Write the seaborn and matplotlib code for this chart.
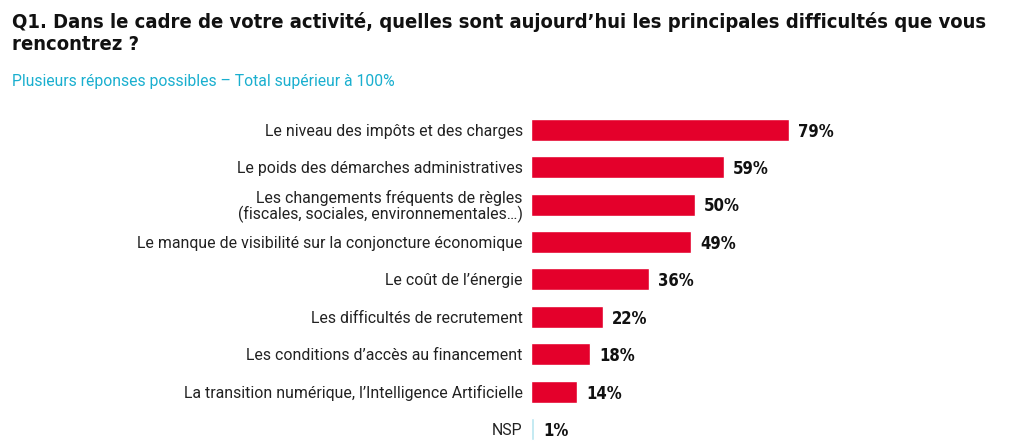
import matplotlib
matplotlib.use('Agg')
import matplotlib.pyplot as plt
import seaborn as sns
import pandas as pd

# data
labels = [
    "Le niveau des impôts et des charges",
    "Le poids des démarches administratives",
    "Les changements fréquents de règles\n(fiscales, sociales, environnementales…)",
    "Le manque de visibilité sur la conjoncture économique",
    "Le coût de l’énergie",
    "Les difficultés de recrutement",
    "Les conditions d’accès au financement",
    "La transition numérique, l’Intelligence Artificielle",
    "NSP",
]
values = [79, 59, 50, 49, 36, 22, 18, 14, 1]
bar_colors = ["#E4002B"] * 8 + ["#B8E6F0"]

title = ("Q1. Dans le cadre de votre activité, quelles sont aujourd’hui les principales difficultés que vous\n"
         "rencontrez ?")
subtitle = "Plusieurs réponses possibles – Total supérieur à 100%"

sns.set_theme(style="white")
plt.rcParams['font.family'] = ['Roboto', 'DejaVu Sans']

df = pd.DataFrame({'label': labels, 'value': values})

fig = plt.figure(figsize=(10.24, 4.46), dpi=100)
ax = fig.add_axes([531 / 1024, -0.004, 327 / 1024, 0.755])

sns.barplot(data=df, x='value', y='label', hue='label', palette=bar_colors,
            legend=False, width=0.59, ax=ax, saturation=1)
ax.set_xlim(0, 100)
ax.set_ylim(8.5, -0.5)
ax.set_xlabel('')
ax.set_ylabel('')
ax.set_xticks([])
ax.tick_params(axis='y', length=0, pad=6, labelsize=11.4, labelcolor='#222222')
for s in ax.spines.values():
    s.set_visible(False)

for tl in ax.get_yticklabels():
    tl.set_horizontalalignment('right')
    tl.set_multialignment('right')
    tl.set_linespacing(1.0)

for i, v in enumerate(values):
    ax.text(v + 2.8, i + 0.05, f"{v}%", va='center', ha='left', fontsize=12,
            fontweight='bold', fontstretch='condensed', family=['DejaVu Sans'],
            color='#111111', clip_on=False)

fig.text(12 / 1024, 1 - 12 / 446, title, ha='left', va='top', fontsize=14.5,
         fontweight='bold', fontstretch='condensed', family=['DejaVu Sans'],
         color='#111111', linespacing=1.2)
fig.text(12 / 1024, 1 - 74 / 446, subtitle, ha='left', va='top', fontsize=11.3,
         color='#1AAFCF')

fig.savefig('out.png', dpi=100, facecolor='white')
